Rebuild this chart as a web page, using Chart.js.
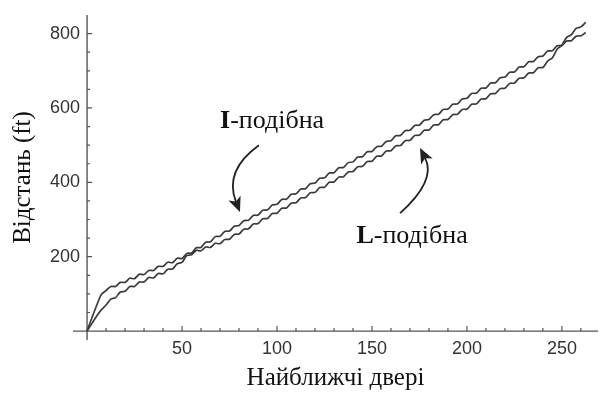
<!DOCTYPE html>
<html>
<head>
<meta charset="utf-8">
<script src="https://cdn.jsdelivr.net/npm/chart.js@4.4.0/dist/chart.umd.min.js"></script>
<style>
  html, body { margin: 0; padding: 0; background: #fff; }
</style>
</head>
<body>
<canvas id="myChart" width="599" height="393"></canvas>
<script>
// x samples (nearest door index)
const doors = [0, 2.5, 5, 7.5, 10, 12.5, 15, 17.5, 20, 22.5, 25, 27.5, 30, 32.5, 35, 37.5, 40, 42.5, 45, 47.5,
  50, 52.5, 55, 57.5, 60, 62.5, 65, 67.5, 70, 72.5, 75, 77.5, 80, 82.5, 85, 87.5, 90, 92.5, 95, 97.5,
  100, 102.5, 105, 107.5, 110, 112.5, 115, 117.5, 120, 122.5, 125, 127.5, 130, 132.5, 135, 137.5, 140, 142.5, 145, 147.5,
  150, 152.5, 155, 157.5, 160, 162.5, 165, 167.5, 170, 172.5, 175, 177.5, 180, 182.5, 185, 187.5, 190, 192.5, 195, 197.5,
  200, 202.5, 205, 207.5, 210, 212.5, 215, 217.5, 220, 222.5, 225, 227.5, 230, 232.5, 235, 237.5, 240, 242.5, 245, 247.5,
  250, 252.5, 255, 257.5, 260, 262.5];

// distance (ft), I-shaped layout
const iShaped = [0, 35, 68, 98, 109, 120, 120, 131, 131, 142, 141, 153, 152, 163, 163, 174, 174, 185, 184, 196,
  195, 209, 210, 224, 225, 239, 240, 254, 255, 268, 269, 282, 284, 297, 298, 311, 312, 325, 326, 339,
  341, 354, 355, 368, 369, 382, 383, 396, 398, 411, 412, 425, 426, 439, 440, 453, 455, 468, 469, 482,
  483, 496, 497, 510, 512, 525, 526, 539, 540, 553, 554, 567, 569, 582, 583, 596, 597, 610, 611, 624,
  626, 639, 640, 653, 654, 667, 668, 681, 683, 696, 697, 710, 711, 724, 725, 738, 740, 753, 754, 767,
  768, 780, 781, 793, 794, 803];

// distance (ft), L-shaped layout
const lShaped = [0, 20, 40, 57, 70, 86, 90, 105, 107, 120, 120, 132, 132, 144, 143, 155, 154, 166, 167, 181,
  185, 203, 205, 217, 216, 226, 225, 236, 235, 246, 247, 260, 261, 274, 275, 288, 289, 302, 303, 316,
  317, 330, 331, 344, 345, 358, 359, 372, 373, 386, 387, 400, 401, 414, 415, 428, 429, 442, 443, 456,
  457, 470, 471, 484, 485, 498, 499, 512, 513, 526, 527, 540, 541, 554, 555, 568, 569, 582, 583, 596,
  597, 610, 611, 624, 625, 638, 639, 652, 653, 666, 667, 680, 681, 694, 695, 708, 709, 726, 735, 758,
  769, 790, 797, 814, 818, 830];

const xTicks = [50, 100, 150, 200, 250];
const yTicks = [200, 400, 600, 800];

const serif = '"Liberation Serif", "DejaVu Serif", serif';
const sans = '"Liberation Sans", Arial, sans-serif';
const tickFont = { family: sans, size: 18 };

function arrow(ctx, p0, c, p2) {
  const ang = Math.atan2(p2.y - c.y, p2.x - c.x);
  const len = 15, w = 6.5;
  const cs = Math.cos(ang), sn = Math.sin(ang);
  const bx = p2.x - len * 0.75 * cs, by = p2.y - len * 0.75 * sn;
  ctx.beginPath();
  ctx.moveTo(p0.x, p0.y);
  ctx.quadraticCurveTo(c.x, c.y, bx, by);
  ctx.stroke();
  const wx = p2.x - len * cs, wy = p2.y - len * sn;
  ctx.beginPath();
  ctx.moveTo(p2.x, p2.y);
  ctx.lineTo(wx + w * sn, wy - w * cs);
  ctx.lineTo(bx, by);
  ctx.lineTo(wx - w * sn, wy + w * cs);
  ctx.closePath();
  ctx.fill();
}

function label(ctx, bold, rest, cx, cy) {
  const size = 26;
  ctx.font = 'bold ' + size + 'px ' + serif;
  const w1 = ctx.measureText(bold).width;
  ctx.font = size + 'px ' + serif;
  const w2 = ctx.measureText(rest).width;
  const x0 = cx - (w1 + w2) / 2;
  ctx.textBaseline = 'middle';
  ctx.textAlign = 'left';
  ctx.font = 'bold ' + size + 'px ' + serif;
  ctx.fillText(bold, x0, cy);
  ctx.font = size + 'px ' + serif;
  ctx.fillText(rest, x0 + w1, cy);
}

const decor = {
  id: 'decor',
  beforeDatasetsDraw(chart) {
    const { ctx, scales: { x, y } } = chart;
    const x0 = x.getPixelForValue(0), y0 = y.getPixelForValue(0);
    ctx.save();
    ctx.strokeStyle = '#555';
    ctx.lineWidth = 1.4;
    ctx.beginPath();
    ctx.moveTo(x.left, y0); ctx.lineTo(x.right, y0);
    ctx.moveTo(x0, y.top); ctx.lineTo(x0, y.bottom);
    ctx.stroke();
    // tick marks, drawn inward like the original
    ctx.lineWidth = 1.2;
    ctx.beginPath();
    for (let v = 10; v <= 260; v += 10) {
      const px = x.getPixelForValue(v);
      ctx.moveTo(px, y0); ctx.lineTo(px, y0 - (xTicks.includes(v) ? 5 : 3));
    }
    for (let v = 50; v <= 800; v += 50) {
      const py = y.getPixelForValue(v);
      ctx.moveTo(x0, py); ctx.lineTo(x0 + (yTicks.includes(v) ? 5 : 3), py);
    }
    ctx.stroke();
    ctx.restore();
  },
  afterDatasetsDraw(chart) {
    const { ctx, scales: { x, y } } = chart;
    const p = (a, b) => ({ x: x.getPixelForValue(a), y: y.getPixelForValue(b) });
    ctx.save();
    ctx.fillStyle = '#222';
    ctx.strokeStyle = '#222';
    ctx.lineWidth = 1.8;
    arrow(ctx, p(90.5, 500), p(72, 432), p(80.5, 320));
    arrow(ctx, p(164.8, 317), p(184, 405), p(175.3, 492));
    ctx.fillStyle = '#111';
    let c = p(97.4, 565);
    label(ctx, 'I', '-подібна', c.x, c.y);
    c = p(171.1, 256);
    label(ctx, 'L', '-подібна', c.x, c.y);
    ctx.restore();
  }
};

const toPoints = (ys) => doors.map((d, i) => ({ x: d, y: ys[i] }));

const config = {
  type: 'line',
  data: {
    datasets: [
      { label: 'I-подібна', data: toPoints(iShaped), borderColor: '#3a3a3a', borderWidth: 1.7, pointRadius: 0, tension: 0.3, fill: false },
      { label: 'L-подібна', data: toPoints(lShaped), borderColor: '#3a3a3a', borderWidth: 1.7, pointRadius: 0, tension: 0.3, fill: false }
    ]
  },
  options: {
    responsive: false,
    animation: false,
    layout: { padding: { top: 15, right: 1, left: 0, bottom: 0 } },
    plugins: { legend: { display: false }, tooltip: { enabled: false } },
    scales: {
      x: {
        type: 'linear',
        min: -7.4,
        max: 269,
        afterFit: (s) => { s.height = 53; },
        afterBuildTicks: (s) => { s.ticks = xTicks.map(v => ({ value: v })); },
        grid: { display: false, drawTicks: false },
        border: { display: false },
        ticks: { padding: -2, color: '#333', font: tickFont, maxRotation: 0, autoSkip: false },
        title: { display: true, text: 'Найближчі двері', color: '#111', font: { family: serif, size: 25 }, padding: { top: 0, bottom: 0 } }
      },
      y: {
        type: 'linear',
        min: -24,
        max: 850,
        afterFit: (s) => { s.width = 73; },
        afterBuildTicks: (s) => { s.ticks = yTicks.map(v => ({ value: v })); },
        grid: { display: false, drawTicks: false },
        border: { display: false },
        // mirrored + far alignment keeps labels right-aligned just left of the y axis without clipping
        ticks: { mirror: true, crossAlign: 'far', padding: -23, color: '#333', font: tickFont, autoSkip: false },
        title: { display: true, text: 'Відстань (ft)', color: '#111', font: { family: serif, size: 25 }, padding: { top: 8, bottom: 0 } }
      }
    }
  },
  plugins: [decor]
};

const myChart = new Chart(document.getElementById('myChart'), config);
</script>
</body>
</html>
